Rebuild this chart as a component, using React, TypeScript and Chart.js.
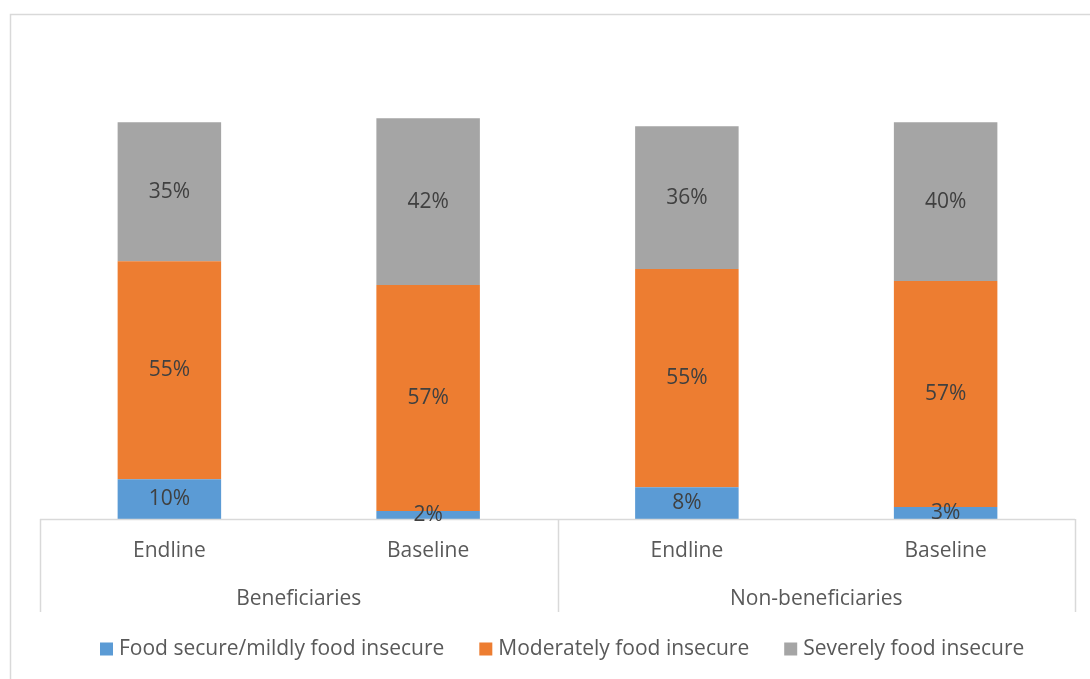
import React, { useEffect, useRef } from 'react';
import { Chart, registerables } from 'chart.js';

Chart.register(...registerables);

// Survey rounds (inner axis level) and respondent groups (outer axis level)
const categories = ['Endline', 'Baseline', 'Endline', 'Baseline'];
const groups = ['Beneficiaries', 'Non-beneficiaries'];
const roundsPerGroup = 2;

// Share of households (%) in each food security class
const secureValues = [10, 2, 8, 3];
const moderateValues = [55, 57, 55, 57];
const severeValues = [35, 42, 36, 40];

const seriesLabels = [
  'Food secure/mildly food insecure',
  'Moderately food insecure',
  'Severely food insecure',
];
const seriesColors = ['#5B9BD5', '#ED7D31', '#A5A5A5'];

const W = 1090;
const H = 679;
const FONT = '"Open Sans", "DejaVu Sans", sans-serif';
const TEXT = '#595959';
const LABEL = '#404040';
const LINE = '#D9D9D9';

const decorations = {
  id: 'decorations',
  beforeDraw(chart: any) {
    const ctx = chart.ctx;
    ctx.save();
    ctx.fillStyle = '#ffffff';
    ctx.fillRect(0, 0, chart.width, chart.height);
    ctx.strokeStyle = LINE;
    ctx.lineWidth = 1.5;
    ctx.strokeRect(10.5, 14.5, chart.width + 50, chart.height + 50);
    ctx.restore();
  },
  afterDatasetsDraw(chart: any) {
    const ctx = chart.ctx;
    const xs = chart.scales.x;
    const area = chart.chartArea;
    const n = categories.length;
    const catW = (xs.right - xs.left) / n;
    const base = area.bottom;

    ctx.save();
    // category axis line and group separators
    ctx.strokeStyle = LINE;
    ctx.lineWidth = 1.5;
    ctx.beginPath();
    ctx.moveTo(xs.left, base + 0.5);
    ctx.lineTo(xs.right, base + 0.5);
    for (let g = 0; g <= groups.length; g++) {
      const x = Math.round(xs.left + g * roundsPerGroup * catW) + 0.5;
      ctx.moveTo(x, base);
      ctx.lineTo(x, base + 93);
    }
    ctx.stroke();

    // value labels in the middle of each segment
    ctx.font = `21px ${FONT}`;
    ctx.fillStyle = LABEL;
    ctx.textAlign = 'center';
    ctx.textBaseline = 'middle';
    chart.data.datasets.forEach((ds: any, i: number) => {
      const meta = chart.getDatasetMeta(i);
      meta.data.forEach((el: any, j: number) => {
        const y = (el.y + el.base) / 2;
        ctx.fillText(`${ds.data[j]}%`, el.x, y);
      });
    });

    // inner axis labels
    ctx.fillStyle = TEXT;
    categories.forEach((c, i) => {
      ctx.fillText(c, xs.getPixelForValue(i), base + 32);
    });
    // outer axis labels
    groups.forEach((g, k) => {
      const x0 = xs.left + k * roundsPerGroup * catW;
      ctx.fillText(g, x0 + (roundsPerGroup * catW) / 2, base + 80);
    });

    // legend
    const box = 13;
    const gapBox = 6;
    const gapItem = 35;
    ctx.textAlign = 'left';
    let x = 100;
    const ly = 649;
    chart.data.datasets.forEach((ds: any) => {
      ctx.fillStyle = ds.backgroundColor;
      ctx.fillRect(x, ly - 6.5, box, box);
      ctx.fillStyle = TEXT;
      ctx.fillText(ds.label, x + box + gapBox, ly);
      x += box + gapBox + ctx.measureText(ds.label).width + gapItem;
    });
    ctx.restore();
  },
};

export default function App() {
  const ref = useRef<HTMLCanvasElement | null>(null);

  useEffect(() => {
    if (!ref.current) return;
    const values = [secureValues, moderateValues, severeValues];
    const chart = new Chart(ref.current, {
      type: 'bar',
      data: {
        labels: categories,
        datasets: values.map((v, i) => ({
          label: seriesLabels[i],
          data: v,
          backgroundColor: seriesColors[i],
          borderWidth: 0,
          categoryPercentage: 1,
          barPercentage: 0.4,
        })),
      },
      options: {
        responsive: false,
        animation: false,
        devicePixelRatio: 1,
        layout: { padding: { left: 40, right: 15, top: 43, bottom: 160 } },
        plugins: { legend: { display: false }, tooltip: { enabled: false } },
        scales: {
          x: { stacked: true, display: false },
          y: { stacked: true, display: false, min: 0, max: 120 },
        },
      },
      plugins: [decorations],
    });
    return () => chart.destroy();
  }, []);

  return (
    <div style={{ position: 'fixed', left: 0, top: 0, width: W, height: H, background: '#fff' }}>
      <canvas ref={ref} width={W} height={H} style={{ display: 'block' }} />
    </div>
  );
}
